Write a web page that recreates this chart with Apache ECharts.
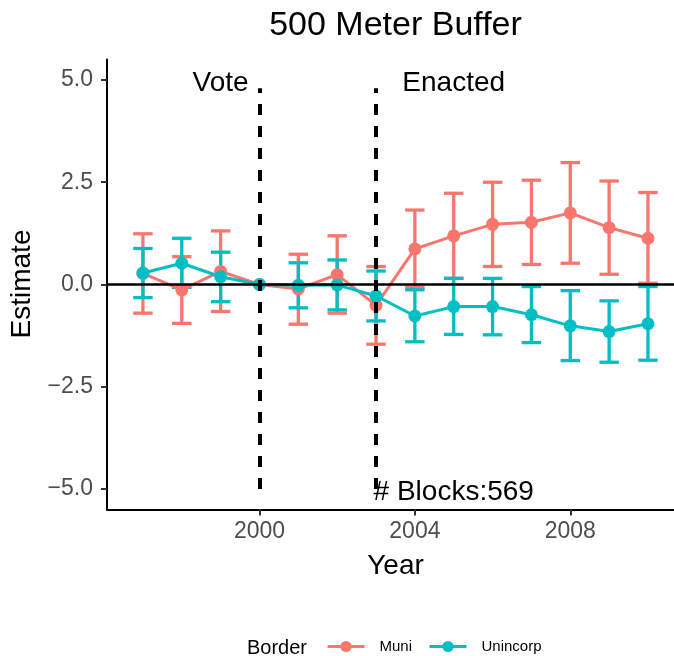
<!DOCTYPE html>
<html>
<head>
<meta charset="utf-8">
<script src="https://cdn.jsdelivr.net/npm/echarts@6/dist/echarts.min.js"></script>
<style>
  html, body { margin: 0; padding: 0; background: #fff; }
  #chart { width: 674px; height: 656px; }
</style>
</head>
<body>
<div id="chart"></div>
<script>
// Event-study estimates by year, 500 m buffer
const years = [1997, 1998, 1999, 2000, 2001, 2002, 2003, 2004, 2005, 2006, 2007, 2008, 2009, 2010];

const muniEst  = [0.27, -0.13, 0.32, 0, -0.11, 0.24, -0.51, 0.87, 1.19, 1.47, 1.52, 1.75, 1.39, 1.13];
const muniLow  = [-0.70, -0.95, -0.66, null, -0.97, -0.70, -1.46, -0.07, 0.15, 0.44, 0.49, 0.52, 0.25, 0.03];
const muniHigh = [1.24, 0.68, 1.31, null, 0.74, 1.19, 0.44, 1.82, 2.23, 2.50, 2.55, 2.98, 2.53, 2.25];

const unincEst  = [0.28, 0.52, 0.19, 0, -0.02, -0.01, -0.28, -0.77, -0.54, -0.54, -0.74, -1.01, -1.15, -0.96];
const unincLow  = [-0.32, -0.07, -0.42, null, -0.57, -0.62, -0.89, -1.40, -1.22, -1.23, -1.42, -1.86, -1.90, -1.85];
const unincHigh = [0.88, 1.13, 0.79, null, 0.53, 0.60, 0.33, -0.13, 0.15, 0.15, -0.05, -0.15, -0.40, -0.05];

const xTicks = [2000, 2004, 2008];
const yTicks = [-5, -2.5, 0, 2.5, 5];

// Policy milestones (dashed verticals) and their labels
const eventYears = [2000, 2003];
const eventSpan = [-5, 4.8];
const noteText = ['Vote', 'Enacted', '# Blocks:569'];
const noteX = [1999, 2005, 2005];
const noteY = [5, 5, -5];

const X_MIN = 1996.075, X_MAX = 2010.67;
const RED = '#F8766D';
const TEAL = '#00BFC4';
const FONT = '"Liberation Sans", Arial, Helvetica, sans-serif';

function pairs(xs, ys) { return xs.map((x, i) => [x, ys[i]]); }
function bars(xs, lo, hi) {
  const out = [];
  xs.forEach((x, i) => { if (lo[i] != null && hi[i] != null) out.push([x, lo[i], hi[i]]); });
  return out;
}

function errorBarSeries(name, color, data) {
  return {
    name: name,
    type: 'custom',
    coordinateSystem: 'cartesian2d',
    z: 2,
    encode: { x: 0, y: [1, 2] },
    data: data,
    silent: true,
    renderItem: function (params, api) {
      const x = api.value(0);
      const top = api.coord([x, api.value(2)]);
      const bot = api.coord([x, api.value(1)]);
      const half = api.size([0.5, 0])[0] / 2;
      const st = { stroke: color, lineWidth: 3.3, fill: null };
      return {
        type: 'group',
        children: [
          { type: 'line', shape: { x1: top[0], y1: top[1], x2: bot[0], y2: bot[1] }, style: st },
          { type: 'line', shape: { x1: top[0] - half, y1: top[1], x2: top[0] + half, y2: top[1] }, style: st },
          { type: 'line', shape: { x1: bot[0] - half, y1: bot[1], x2: bot[0] + half, y2: bot[1] }, style: st }
        ]
      };
    }
  };
}

function lineSeries(name, color, data, z) {
  return {
    name: name,
    type: 'line',
    z: z,
    data: data,
    symbol: 'circle',
    symbolSize: 13,
    showSymbol: true,
    lineStyle: { color: color, width: 3 },
    itemStyle: { color: color },
    emphasis: { disabled: true },
    animation: false
  };
}

const chart = echarts.init(document.getElementById('chart'), null, { renderer: 'canvas' });

chart.setOption({
  animation: false,
  backgroundColor: '#fff',
  grid: { left: 107, top: 59.5, right: 0, height: 450 },
  xAxis: {
    type: 'value',
    min: X_MIN,
    max: X_MAX,
    axisLine: { onZero: false, lineStyle: { color: '#000', width: 2 } },
    axisTick: { show: true, customValues: xTicks, length: 6, lineStyle: { color: '#333', width: 2 } },
    axisLabel: {
      customValues: xTicks,
      margin: 11,
      fontSize: 23,
      fontFamily: FONT,
      color: '#4D4D4D',
      formatter: v => String(v)
    },
    splitLine: { show: false }
  },
  yAxis: {
    type: 'value',
    min: -5.5,
    max: 5.5,
    axisLine: { show: true, onZero: false, lineStyle: { color: '#000', width: 2 } },
    axisTick: { show: true, customValues: yTicks, length: 6, lineStyle: { color: '#333', width: 2 } },
    axisLabel: {
      customValues: yTicks,
      margin: 14,
      fontSize: 23,
      fontFamily: FONT,
      color: '#4D4D4D',
      padding: [3, 0, 0, 0],
      formatter: v => (v < 0 ? '\u2212' : '') + Math.abs(v).toFixed(1)
    },
    splitLine: { show: false }
  },
  legend: {
    data: ['Muni', 'Unincorp'],
    left: 326,
    top: 639,
    padding: 0,
    orient: 'horizontal',
    itemWidth: 37,
    itemHeight: 14,
    itemGap: 16,
    selectedMode: false,
    lineStyle: { width: 3 },
    textStyle: { fontSize: 15, fontFamily: FONT, color: '#000', padding: [2, 0, 0, 10] }
  },
  graphic: [
    {
      type: 'text', x: 395.5, y: 26,
      style: { text: '500 Meter Buffer', fontSize: 34, fontFamily: FONT, fill: '#000',
               textAlign: 'center', textVerticalAlign: 'middle', align: 'center', verticalAlign: 'middle' }
    },
    {
      type: 'text', x: 22.5, y: 284, rotation: Math.PI / 2,
      style: { text: 'Estimate', fontSize: 28, fontFamily: FONT, fill: '#000',
               textAlign: 'center', textVerticalAlign: 'middle', align: 'center', verticalAlign: 'middle' }
    },
    {
      type: 'text', x: 395.5, y: 566,
      style: { text: 'Year', fontSize: 28, fontFamily: FONT, fill: '#000',
               textAlign: 'center', textVerticalAlign: 'middle', align: 'center', verticalAlign: 'middle' }
    },
    {
      type: 'text', x: 247, y: 648,
      style: { text: 'Border', fontSize: 20, fontFamily: FONT, fill: '#000',
               textAlign: 'left', textVerticalAlign: 'middle', align: 'left', verticalAlign: 'middle' }
    }
  ],
  series: [
    errorBarSeries('Muni interval', RED, bars(years, muniLow, muniHigh)),
    errorBarSeries('Unincorp interval', TEAL, bars(years, unincLow, unincHigh)),
    lineSeries('Muni', RED, pairs(years, muniEst), 3),
    lineSeries('Unincorp', TEAL, pairs(years, unincEst), 4),
    {
      // zero reference and milestone verticals
      name: 'refs',
      type: 'line',
      z: 6,
      data: [],
      silent: true,
      markLine: {
        silent: true,
        symbol: ['none', 'none'],
        label: { show: false },
        animation: false,
        data: [
          [{ coord: [X_MIN, 0], lineStyle: { color: '#000', width: 2.5, type: 'solid' } }, { coord: [X_MAX, 0] }]
        ].concat(eventYears.map(yr => [
          { coord: [yr, eventSpan[0]], lineStyle: { color: '#000', width: 4, type: [11, 11] } },
          { coord: [yr, eventSpan[1]] }
        ]))
      }
    },
    {
      name: 'notes',
      type: 'custom',
      coordinateSystem: 'cartesian2d',
      z: 7,
      silent: true,
      encode: { x: 0, y: 1 },
      data: pairs(noteX, noteY),
      renderItem: function (params, api) {
        const p = api.coord([api.value(0), api.value(1)]);
        return {
          type: 'text',
          x: p[0], y: p[1] + 3,
          style: {
            text: noteText[params.dataIndex], fontSize: 28, fontFamily: FONT, fill: '#000',
            textAlign: 'center', textVerticalAlign: 'middle', align: 'center', verticalAlign: 'middle'
          }
        };
      }
    }
  ]
});
</script>
</body>
</html>
